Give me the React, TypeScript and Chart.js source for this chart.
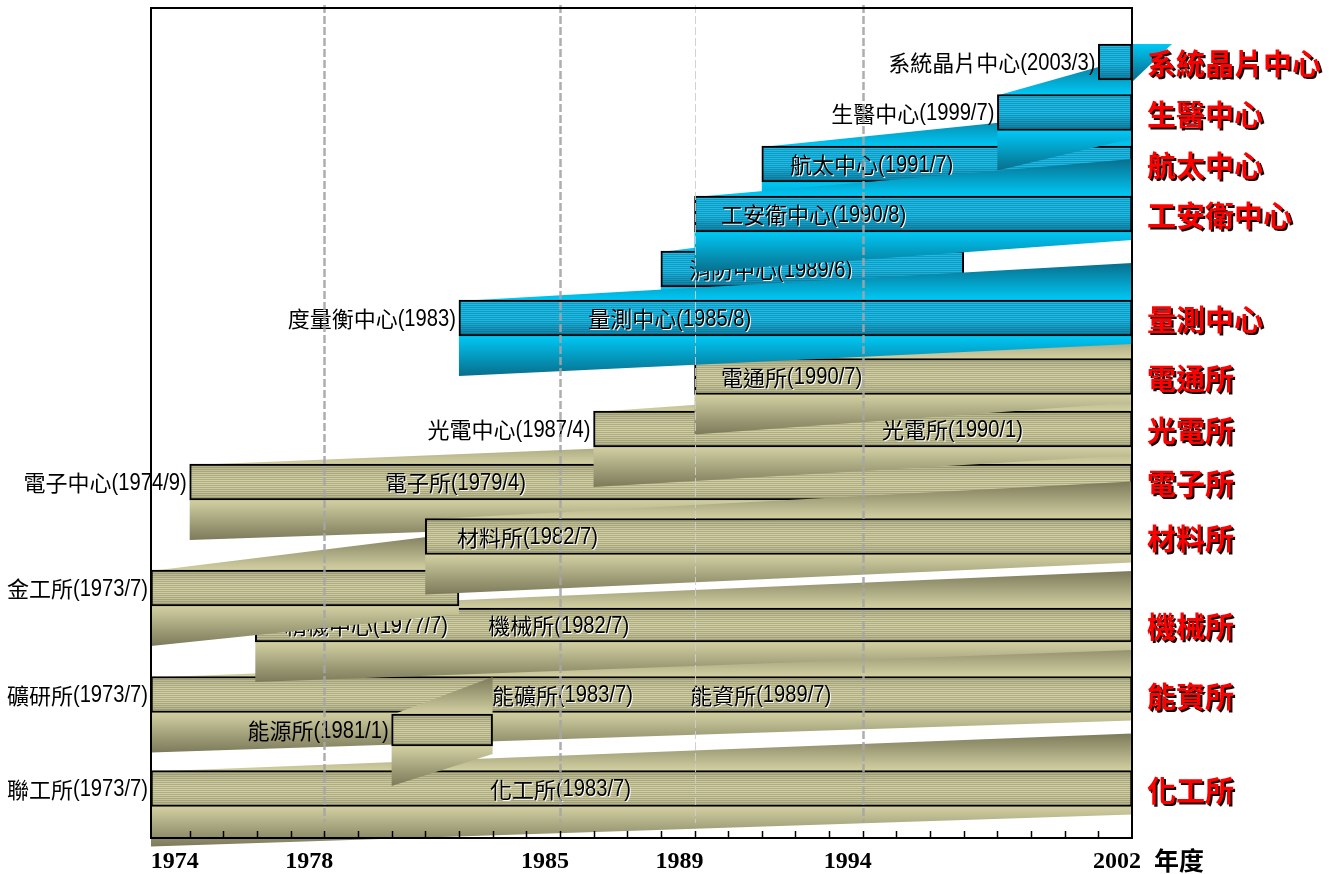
import React, { useEffect, useRef } from 'react';
import { Chart, registerables } from 'chart.js';
Chart.register(...registerables);

// ---------- data ----------
// rows, top to bottom
const ROW_IDS = ['soc', 'bio', 'aero', 'cesh', 'fire', 'cms', 'ccl', 'oes', 'erso', 'mrl', 'mir', 'mech', 'mrso', 'erl', 'ucl'];
// lane value on the (hidden) vertical axis
const ROW_LANES = [5.4, 10.45, 15.6, 20.6, 26.1, 31.0, 36.85, 42.1, 47.4, 52.85, 58.0, 61.7, 68.65, 72.2, 78.05];
// bar spans in years
const BAR_START = [2001.0, 1998.0, 1991.0, 1989.0, 1988.0, 1982.0, 1989.0, 1986.0, 1974.0, 1981.0, 1972.85, 1975.95, 1972.85, 1980.0, 1972.85];
const BAR_END = [2002, 2002, 2002, 2002, 1997, 2002, 2002, 2002, 2002, 2002, 1982, 2002, 2002, 1983, 2002];
// group: c = centres (cyan), i = institutes (khaki)
const ROW_GROUP = ['c', 'c', 'c', 'c', 'c', 'c', 'i', 'i', 'i', 'i', 'i', 'i', 'i', 'i', 'i'];
// names written left of each bar
const START_LABELS = ['系統晶片中心(2003/3)', '生醫中心(1999/7)', '', '', '', '度量衡中心(1983)', '', '光電中心(1987/4)', '電子中心(1974/9)', '', '金工所(1973/7)', '', '礦研所(1973/7)', '能源所(1981/1)', '聯工所(1973/7)'];
// names written inside the bars
const INNER_ROW = ['aero', 'cesh', 'fire', 'cms', 'ccl', 'oes', 'erso', 'mrl', 'mech', 'mech', 'mrso', 'mrso', 'ucl'];
const INNER_TEXT = ['航太中心(1991/7)', '工安衛中心(1990/8)', '消防中心(1989/6)', '量測中心(1985/8)', '電通所(1990/7)', '光電所(1990/1)', '電子所(1979/4)', '材料所(1982/7)', '精機中心(1977/7)', '機械所(1982/7)', '能礦所(1983/7)', '能資所(1989/7)', '化工所(1983/7)'];
const INNER_YEAR = [1991.84, 1989.79, 1988.84, 1985.84, 1989.79, 1994.57, 1979.8, 1981.94, 1976.83, 1982.87, 1982.98, 1988.87, 1982.92];
// current names (right side)
const CURRENT_NAMES = ['系統晶片中心', '生醫中心', '航太中心', '工安衛中心', '', '量測中心', '電通所', '光電所', '電子所', '材料所', '', '機械所', '能資所', '', '化工所'];
// axis
const X_MIN = 1972.85;
const X_MAX = 2002;
const TICK_LABEL_YEARS = [1974, 1978, 1985, 1989, 1994, 2002];
const GRID_YEARS = [1978, 1985, 1989, 1994];
const MINOR_TICK_FIRST = 1974;
const MINOR_TICK_LAST = 2001;
const AXIS_TITLE = '年度';
// z-order: first drawn first
const DRAW_ORDER = ['ucl', 'mrso', 'erl', 'mech', 'mir', 'erso', 'mrl', 'oes', 'ccl', 'fire', 'cms', 'aero', 'cesh', 'bio', 'soc'];

// ---------- styles ----------
const THICK: Record<string, number> = { mech: 34, erl: 32 };
const thicknessOf = (i: number) => THICK[ROW_IDS[i]] ?? 36;
const BAR_PAL = {
  c: { light: [30, 198, 242], dark: [6, 88, 118] },
  i: { light: [214, 212, 166], dark: [112, 110, 80] },
};
const RIB_PAL = {
  c: { near: 'rgb(0,200,245)', far: 'rgb(8,110,140)' },
  i: { near: 'rgb(210,208,162)', far: 'rgb(124,122,90)' },
};
const RISE = 37;
const DROP = 40;
const TAIL = 8;

const mix = (a: number[], b: number[], t: number) => {
  const c = a.map((v, k) => Math.round(v + (b[k] - v) * Math.max(0, Math.min(1, t))));
  return `rgb(${c[0]},${c[1]},${c[2]})`;
};

function profile(group: string, t: number) {
  if (group === 'c') return t < 0.55 ? 0.9 : 0.9 - (t - 0.55) * 1.3;
  return 0.25 + 0.7 * Math.pow(Math.sin(Math.PI * (0.08 + 0.84 * t)), 0.6);
}

function barFill(ctx: any, i: number) {
  const chart = ctx.chart;
  const ys = chart.scales && chart.scales.y;
  const group = ROW_GROUP[i];
  const pal = (BAR_PAL as any)[group];
  const fallback = mix(pal.dark, pal.light, 0.7);
  if (!ys) return fallback;
  const th = thicknessOf(i);
  const top = ys.getPixelForValue(ROW_LANES[i]) - th / 2;
  if (!Number.isFinite(top)) return fallback;
  const g = chart.ctx.createLinearGradient(0, top, 0, top + th);
  for (let k = 0; k < th; k++) {
    const t = (k + 0.5) / th;
    let b = profile(group, t);
    if (k % 2 === 1) b *= 0.66;
    const c = mix(pal.dark, pal.light, b);
    g.addColorStop(k / th, c);
    g.addColorStop(Math.min(1, (k + 1) / th), c);
  }
  return g;
}

const isCJK = (ch: string) => ch.charCodeAt(0) > 0x2e80;
function drawMixed(ctx: CanvasRenderingContext2D, text: string, x: number, y: number, align: 'left' | 'right', color: string, halo?: string) {
  const runs: { s: string; cjk: boolean }[] = [];
  for (const ch of text) {
    const c = isCJK(ch);
    if (runs.length && runs[runs.length - 1].cjk === c) runs[runs.length - 1].s += ch;
    else runs.push({ s: ch, cjk: c });
  }
  const CJK_FONT = '22px "Noto Sans CJK TC", "Noto Sans CJK SC", sans-serif';
  const LAT_FONT = '24px "Liberation Sans", Arial, sans-serif';
  const SX = 0.84;
  ctx.textBaseline = 'middle';
  ctx.textAlign = 'left';
  const widths = runs.map((r) => {
    ctx.font = r.cjk ? CJK_FONT : LAT_FONT;
    return ctx.measureText(r.s).width * (r.cjk ? 1 : SX);
  });
  const total = widths.reduce((a, b) => a + b, 0);
  let cx = align === 'right' ? x - total : x;
  runs.forEach((r, k) => {
    ctx.font = r.cjk ? CJK_FONT : LAT_FONT;
    const paint = (dx: number, dy: number, col: string) => {
      ctx.save();
      ctx.fillStyle = col;
      ctx.translate(cx + dx, y + dy);
      if (!r.cjk) ctx.scale(SX, 1);
      ctx.fillText(r.s, 0, 0);
      ctx.restore();
    };
    if (halo) paint(1, 1, halo);
    paint(0, 0, color);
    cx += widths[k];
  });
}

const ok = (...v: number[]) => v.every((n) => Number.isFinite(n));

const timelinePlugin = {
  id: 'timeline',
  beforeDatasetDraw(chart: any, args: any) {
    const i = args.index;
    const el = args.meta.data[0];
    if (!el) return;
    const { x, base, y, height } = el.getProps(['x', 'base', 'y', 'height'], true);
    if (!ok(x, base, y, height)) return;
    const x0 = Math.min(x, base);
    const x1 = Math.max(x, base);
    const top = y - height / 2;
    const bottom = y + height / 2;
    const ctx: CanvasRenderingContext2D = chart.ctx;
    const pal = (RIB_PAL as any)[ROW_GROUP[i]];
    ctx.save();
    if (ROW_IDS[i] === 'soc') {
      const g = ctx.createLinearGradient(0, top, 0, bottom);
      g.addColorStop(0, pal.near);
      g.addColorStop(1, pal.far);
      ctx.fillStyle = g;
      ctx.beginPath();
      ctx.moveTo(x1, top);
      ctx.lineTo(x1 + 40, top);
      ctx.lineTo(x1, bottom + 2);
      ctx.closePath();
      ctx.fill();
    } else {
      let g = ctx.createLinearGradient(0, top - RISE, 0, top);
      g.addColorStop(0, pal.far);
      g.addColorStop(1, pal.near);
      ctx.fillStyle = g;
      ctx.beginPath();
      ctx.moveTo(x0, top + 1);
      ctx.lineTo(x1, top - RISE);
      ctx.lineTo(x1, top + 1);
      ctx.closePath();
      ctx.fill();
      g = ctx.createLinearGradient(0, bottom, 0, bottom + DROP);
      g.addColorStop(0, pal.near);
      g.addColorStop(1, pal.far);
      ctx.fillStyle = g;
      ctx.beginPath();
      ctx.moveTo(x0, bottom - 1);
      ctx.lineTo(x1, bottom - 1);
      ctx.lineTo(x1, bottom + TAIL);
      ctx.lineTo(x0, bottom + DROP);
      ctx.closePath();
      ctx.fill();
    }
    ctx.restore();
  },
  afterDatasetDraw(chart: any, args: any) {
    const i = args.index;
    const el = args.meta.data[0];
    if (!el) return;
    const { x, base, y } = el.getProps(['x', 'base', 'y'], true);
    if (!ok(x, base, y)) return;
    const x0 = Math.min(x, base);
    const ctx: CanvasRenderingContext2D = chart.ctx;
    const xs = chart.scales.x;
    ctx.save();
    if (START_LABELS[i]) drawMixed(ctx, START_LABELS[i], x0 - 3, y + 1, 'right', '#000');
    INNER_ROW.forEach((r, k) => {
      if (r !== ROW_IDS[i]) return;
      drawMixed(ctx, INNER_TEXT[k], xs.getPixelForValue(INNER_YEAR[k]), y + 1, 'left', '#000', 'rgba(255,255,255,0.95)');
    });
    ctx.restore();
  },
  afterDatasetsDraw(chart: any) {
    const ctx: CanvasRenderingContext2D = chart.ctx;
    const xs = chart.scales.x;
    const { left, right, top, bottom } = chart.chartArea;
    ctx.save();
    GRID_YEARS.forEach((yr) => {
      const px = Math.round(xs.getPixelForValue(yr)) + 0.5;
      const light = yr === 1989;
      ctx.strokeStyle = light ? 'rgba(205,205,205,0.9)' : 'rgba(165,165,165,0.9)';
      ctx.lineWidth = light ? 1 : 2.5;
      ctx.setLineDash([8, 3]);
      ctx.beginPath();
      ctx.moveTo(px, top - 3);
      ctx.lineTo(px, bottom - 15);
      ctx.stroke();
    });
    ctx.setLineDash([]);
    ctx.strokeStyle = '#000';
    ctx.lineWidth = 2;
    ctx.strokeRect(left, top, right - left, bottom - top);
    ctx.lineWidth = 1.5;
    for (let yr = MINOR_TICK_FIRST; yr <= MINOR_TICK_LAST; yr++) {
      const px = Math.round(xs.getPixelForValue(yr)) + 0.5;
      ctx.beginPath();
      ctx.moveTo(px, bottom);
      ctx.lineTo(px, bottom - 7);
      ctx.stroke();
    }
    ctx.restore();
  },
  afterDraw(chart: any) {
    const ctx: CanvasRenderingContext2D = chart.ctx;
    const ys = chart.scales.y;
    const { right, bottom } = chart.chartArea;
    ctx.save();
    ctx.font = 'bold 29px "Noto Sans CJK TC", "Noto Sans CJK SC", sans-serif';
    ctx.textAlign = 'left';
    ctx.textBaseline = 'middle';
    CURRENT_NAMES.forEach((n, i) => {
      if (!n) return;
      const py = ys.getPixelForValue(ROW_LANES[i]) + 2;
      ctx.fillStyle = '#1a0000';
      ctx.fillText(n, right + 17, py + 2);
      ctx.fillStyle = '#ff0000';
      ctx.fillText(n, right + 15, py);
    });
    ctx.fillStyle = '#000';
    ctx.font = 'bold 25px "Noto Sans CJK TC", "Noto Sans CJK SC", sans-serif';
    ctx.fillText(AXIS_TITLE, right + 22, bottom + 22);
    ctx.restore();
  },
};

export default function App() {
  const ref = useRef<HTMLCanvasElement | null>(null);
  useEffect(() => {
    if (!ref.current) return;
    const N = ROW_IDS.length;
    const datasets = ROW_IDS.map((id, i) => ({
      label: id,
      data: [{ x: [BAR_START[i], BAR_END[i]], y: ROW_LANES[i] }],
      order: N - DRAW_ORDER.indexOf(id),
      barThickness: thicknessOf(i),
      grouped: false,
      backgroundColor: (ctx: any) => barFill(ctx, i),
      borderColor: '#000',
      borderWidth: 2,
      borderSkipped: false,
    }));
    const chart = new Chart(ref.current, {
      type: 'bar',
      data: { datasets: datasets as any },
      options: {
        indexAxis: 'y',
        animation: false,
        responsive: false,
        devicePixelRatio: 1,
        layout: { padding: { left: 151, top: 8, right: 211, bottom: 0 } },
        plugins: { legend: { display: false }, tooltip: { enabled: false } },
        scales: {
          x: {
            type: 'linear',
            min: X_MIN,
            max: X_MAX,
            grid: { display: false, drawTicks: false },
            border: { display: false },
            afterFit: (s: any) => {
              s.height = 36;
            },
            ticks: {
              stepSize: 1,
              autoSkip: false,
              maxRotation: 0,
              padding: 9,
              labelOffset: -15,
              color: '#000',
              font: { family: '"Liberation Serif", "Times New Roman", serif', size: 24, weight: 'bold' },
              callback: (v: any) => {
                const r = Math.round(v);
                return Math.abs(v - r) < 1e-6 && TICK_LABEL_YEARS.includes(r) ? String(r) : '';
              },
            },
          },
          y: {
            type: 'linear',
            reverse: true,
            min: 0,
            max: 83,
            offset: false,
            display: false,
          },
        },
      } as any,
      plugins: [timelinePlugin as any],
    });
    return () => chart.destroy();
  }, []);
  return (
    <div style={{ position: 'fixed', left: 0, top: 0, width: 1343, height: 874, background: '#fff' }}>
      <canvas ref={ref} width={1343} height={874} style={{ display: 'block' }} />
    </div>
  );
}
